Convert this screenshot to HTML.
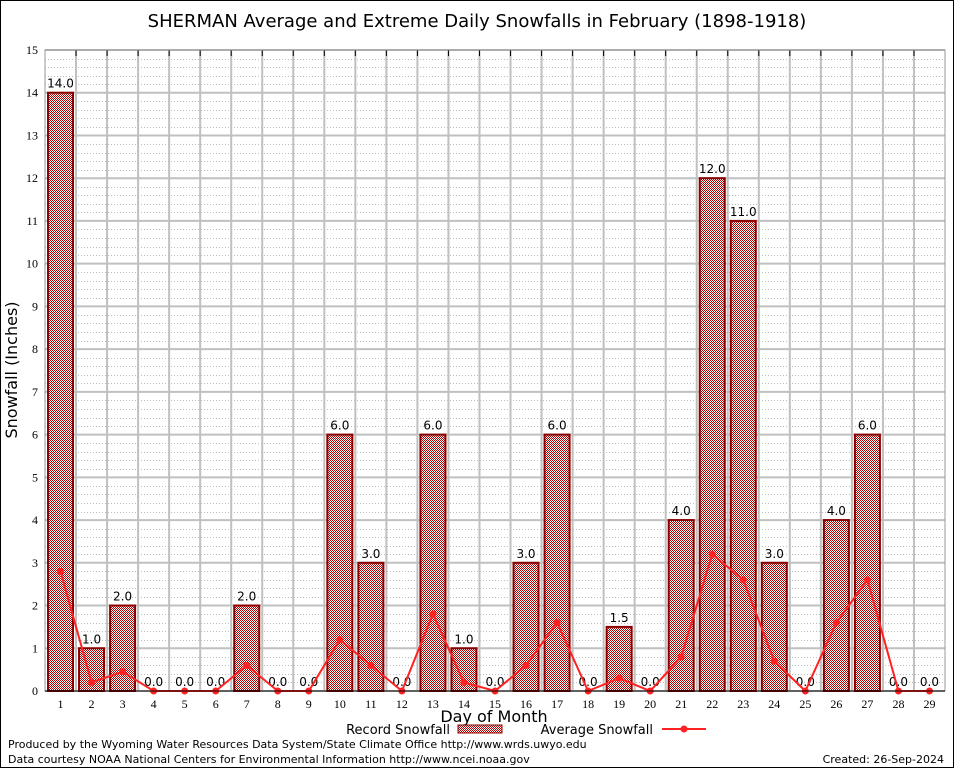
<!DOCTYPE html>
<html><head><meta charset="utf-8"><style>
body{margin:0;background:#fff}
svg{display:block;font-family:"DejaVu Sans","Liberation Sans",sans-serif}
</style></head><body>
<svg id="chart" width="954" height="768" viewBox="0 0 954 768">
<defs><pattern id="hatch" width="2" height="2" patternUnits="userSpaceOnUse"><rect width="2" height="2" fill="#fff"/><rect width="1" height="1" fill="#b00000"/><rect x="1" y="1" width="1" height="1" fill="#b00000"/></pattern></defs>
<rect x="0.5" y="0.5" width="953" height="767" fill="#fff" stroke="#000"/>
<text x="477" y="27" text-anchor="middle" font-size="18">SHERMAN Average and Extreme Daily Snowfalls in February (1898-1918)</text>
<g id="grid"></g><g id="bars"></g><g id="line"></g><g id="axes"></g>
<text transform="translate(17,370) rotate(-90)" text-anchor="middle" font-size="16">Snowfall (Inches)</text>
<text x="494" y="722" text-anchor="middle" font-size="16">Day of Month</text>
<g>
<text x="450" y="734" text-anchor="end" font-size="13">Record Snowfall</text>
<rect x="458" y="725" width="44" height="8" fill="url(#hatch)" stroke="#8b0000"/>
<text x="653" y="734" text-anchor="end" font-size="13">Average Snowfall</text>
<line x1="662" y1="729" x2="706" y2="729" stroke="#f22" stroke-width="2"/>
<circle cx="684" cy="729" r="3.5" fill="#f22"/>
</g>
<text x="8" y="748" font-size="11">Produced by the Wyoming Water Resources Data System/State Climate Office http://www.wrds.uwyo.edu</text>
<text x="8" y="763" font-size="11">Data courtesy NOAA National Centers for Environmental Information http://www.ncei.noaa.gov</text>
<text x="944" y="763" text-anchor="end" font-size="11">Created:  26-Sep-2024</text>
</svg>
<script>
const days=[1,2,3,4,5,6,7,8,9,10,11,12,13,14,15,16,17,18,19,20,21,22,23,24,25,26,27,28,29];
const recordSnow=[14,1,2,0,0,0,2,0,0,6,3,0,6,1,0,3,6,0,1.5,0,4,12,11,3,0,4,6,0,0];
const avgSnow=[2.8,0.2,0.45,0,0,0,0.6,0,0,1.2,0.6,0,1.8,0.2,0,0.6,1.6,0,0.3,0,0.8,3.2,2.6,0.7,0,1.6,2.6,0,0];
const yTicks=[0,1,2,3,4,5,6,7,8,9,10,11,12,13,14,15];
const NS="http://www.w3.org/2000/svg";
const L=45,R=945,T=50,B=691,yMax=15;
const step=(R-L)/days.length;
const xs=d=>L+step*(d-0.5);
const ys=v=>B-(v/yMax)*(B-T);
function mk(tag,attrs,parent,text){const e=document.createElementNS(NS,tag);for(const k in attrs)e.setAttribute(k,attrs[k]);if(text!==undefined)e.textContent=text;document.getElementById(parent).appendChild(e);return e;}
for(let v=0;v<yMax;v+=0.2){const y=Math.round(ys(v))+0.5;if(Math.abs(v-Math.round(v))>0.01){const g=mk('line',{x1:L,x2:R,y1:y,y2:y,stroke:'#bbb','stroke-dasharray':'1,2','stroke-width':1},'grid');

}}
yTicks.forEach(v=>{const y=ys(v);const g=mk('line',{x1:L,x2:R,y1:y,y2:y,stroke:'#c0c0c0','stroke-width':2},'grid');


const t=mk('text',{x:38,y:y+4,'text-anchor':'end','font-size':12,'font-family':'Liberation Serif,serif'},'axes',String(v));

});
for(let i=1;i<days.length;i++){const x=L+step*i;const g=mk('line',{x1:x,x2:x,y1:T,y2:B,stroke:'#c0c0c0','stroke-width':2},'grid');


const tk=mk('line',{x1:x,x2:x,y1:T,y2:T+6,stroke:'#000'},'axes');

}
const fr=mk('rect',{x:L,y:T,width:R-L,height:B-T,fill:'none',stroke:'#999'},'axes');


const ax=mk('line',{x1:L,x2:R,y1:B,y2:B,stroke:'#000'},'axes');


days.forEach((d,i)=>{const v=recordSnow[i];const x=xs(d);
if(v>0){const b=mk('rect',{x:x-12.5,y:ys(v),width:25,height:B-ys(v),fill:'url(#hatch)',stroke:'#8b0000','stroke-width':2},'bars');

}
const lb=mk('text',{x:x,y:ys(v)-5,'text-anchor':'middle','font-size':12},'bars',v.toFixed(1));


const xl=mk('text',{x:x,y:708,'text-anchor':'middle','font-size':12,'font-family':'Liberation Serif,serif'},'axes',String(d));

});
const pl=mk('polyline',{points:days.map((d,i)=>xs(d)+','+ys(avgSnow[i])).join(' '),fill:'none',stroke:'#f22','stroke-width':2},'line');


days.forEach((d,i)=>{const c=mk('circle',{cx:xs(d),cy:ys(avgSnow[i]),r:3.5,fill:'#f22'},'line');

});
</script>
</body></html>
